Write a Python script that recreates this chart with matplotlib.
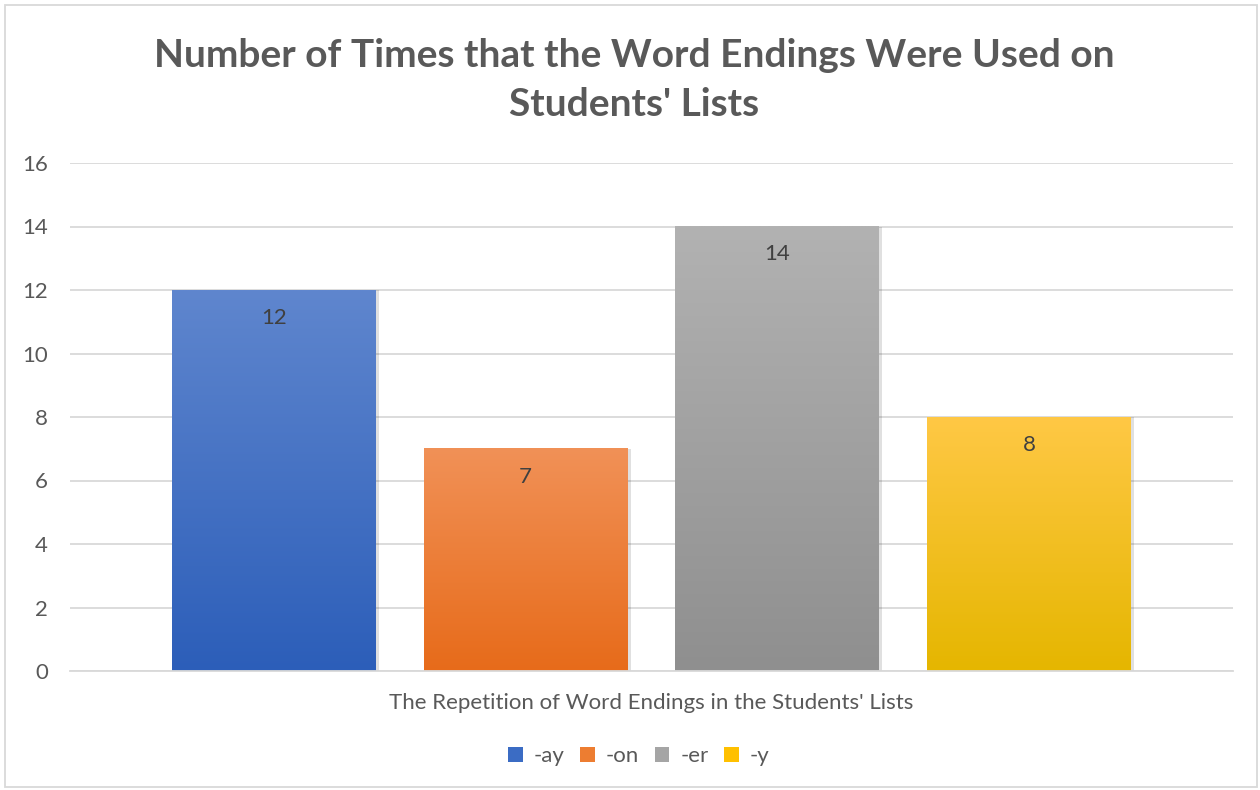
import numpy as np
import matplotlib
matplotlib.use("Agg")
import matplotlib.pyplot as plt
from matplotlib.colors import LinearSegmentedColormap
from matplotlib.patches import Rectangle, Patch

plt.rcParams['font.family'] = ['Lato', 'DejaVu Sans']

series = ['-ay', '-on', '-er', '-y']
values = [12, 7, 14, 8]
category = "The Repetition of Word Endings in the Students' Lists"
top_colors = ['#5F86CE', '#F19157', '#B2B2B2', '#FFC845']
bottom_colors = ['#2C5EB9', '#E76B1A', '#8F8F8F', '#E5B600']
legend_colors = ['#3B6CC4', '#ED7D31', '#A5A5A5', '#FFC000']

fig = plt.figure(figsize=(12.6, 7.9), dpi=100)
ax = fig.add_axes([70 / 1260, 1 - 671 / 790, (1233 - 70) / 1260, (671 - 163) / 790])

width = 0.81
x = np.arange(len(values))
grad = np.linspace(0, 1, 256).reshape(-1, 1)
for i, v in enumerate(values):
    cmap = LinearSegmentedColormap.from_list('g%d' % i, [bottom_colors[i], top_colors[i]])
    l, r = x[i] - width / 2, x[i] + width / 2
    # soft shadow
    ax.add_patch(Rectangle((l + 0.012, 0), width, v, color='#000000', alpha=0.12, zorder=2, lw=0))
    ax.imshow(grad, extent=[l, r, 0, v], origin='lower', cmap=cmap, aspect='auto', zorder=3)
    ax.text(x[i], v - 0.88, str(v), ha='center', va='center', fontsize=16, color='#404040', zorder=4)

ax.set_xlim(-0.81, 3.81)
ax.set_ylim(0, 16)
ax.set_yticks(range(0, 17, 2))
ax.set_xticks([])
ax.yaxis.grid(True, color='#D9D9D9', lw=1.3)
ax.set_axisbelow(True)
for s in ['top', 'right', 'left']:
    ax.spines[s].set_visible(False)
ax.spines['bottom'].set_color('#D9D9D9')
ax.spines['bottom'].set_linewidth(1.3)
ax.spines['bottom'].set_zorder(5)
ax.tick_params(axis='y', length=0, labelsize=16, labelcolor='#595959', pad=16)

fig.text(651 / 1260, 1 - 703 / 790, category, ha='center', va='center', fontsize=16, color='#595959')
fig.text(634 / 1260, 1 - 80 / 790, "Number of Times that the Word Endings Were Used on\nStudents' Lists",
         ha='center', va='center', fontsize=28, fontweight='bold', color='#595959', linespacing=1.5)

handles = [Patch(facecolor=c, label=s) for c, s in zip(legend_colors, series)]
fig.legend(handles=handles, loc='center', bbox_to_anchor=(639 / 1260, 1 - 756 / 790), ncol=4,
           frameon=False, fontsize=16, labelcolor='#595959', handlelength=0.65, handleheight=0.65,
           columnspacing=0.7, handletextpad=0.5)

fig.add_artist(Rectangle((5 / 1260, 3 / 790), 1252 / 1260, 782 / 790, transform=fig.transFigure,
                         fill=False, edgecolor='#D9D9D9', lw=1.3))

fig.savefig('out.png', dpi=100)
